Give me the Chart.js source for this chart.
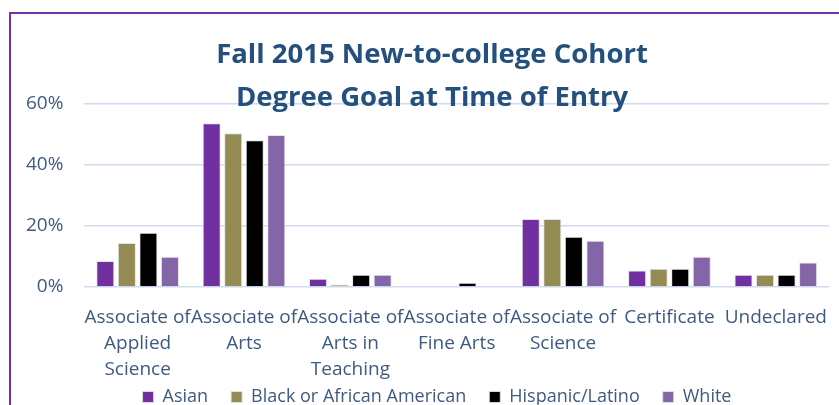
<!DOCTYPE html>
<html>
<head>
<meta charset="utf-8">
<script src="https://cdn.jsdelivr.net/npm/chart.js@4/dist/chart.umd.min.js"></script>
<style>
  html, body { margin: 0; padding: 0; background: #fff; overflow: hidden; }
  #wrap { position: relative; width: 839px; height: 405px; }
  #frame {
    position: absolute; left: 9px; top: 12px; width: 900px; height: 500px;
    border-top: 2px solid #7232A8; border-left: 2px solid #7232A8;
    pointer-events: none;
  }
</style>
</head>
<body>
<div id="wrap">
  <canvas id="chart"></canvas>
  <div id="frame"></div>
</div>
<script>
const categories = [
  ['Associate of', 'Applied', 'Science'],
  ['Associate of', 'Arts'],
  ['Associate of', 'Arts in', 'Teaching'],
  ['Associate of', 'Fine Arts'],
  ['Associate of', 'Science'],
  ['Certificate'],
  ['Undeclared'],
];
const asian = [8.5, 53.7, 2.7, 0, 22.3, 5.4, 4.0];
const black = [14.4, 50.4, 0.8, 0, 22.3, 6.0, 4.0];
const hispanic = [17.8, 48.1, 4.0, 1.4, 16.5, 6.0, 4.0];
const white = [9.9, 49.8, 4.0, 0, 15.2, 9.9, 8.0];
const yTicks = [0, 20, 40, 60];

const titleLines = ['Fall 2015 New-to-college Cohort', 'Degree Goal at Time of Entry'];
const textColor = '#3F5A80';

// title and legend sit a bit right of the plot centre in the original
const shiftBoxes = {
  id: 'shiftBoxes',
  afterLayout(chart) {
    if (chart.titleBlock) chart.titleBlock.left += 30;
    if (chart.legend) chart.legend.left += 40;
  },
};

const ctx = document.getElementById('chart').getContext('2d');
new Chart(ctx, {
  type: 'bar',
  data: {
    labels: categories,
    datasets: [
      { label: 'Asian', data: asian, backgroundColor: '#7030A0' },
      { label: 'Black or African American', data: black, backgroundColor: '#948A54' },
      { label: 'Hispanic/Latino', data: hispanic, backgroundColor: '#000000' },
      { label: 'White', data: white, backgroundColor: '#8465A8' },
    ].map(d => ({ ...d, borderColor: 'rgba(225,225,225,0.9)', borderWidth: 1,
                  categoryPercentage: 0.81, barPercentage: 0.84 })),
  },
  options: {
    responsive: true,
    maintainAspectRatio: false,
    animation: false,
    layout: { padding: { left: 5, right: 10, top: 0, bottom: -11 } },
    scales: {
      x: {
        grid: { display: false, drawTicks: false },
        border: { display: false },
        ticks: {
          color: textColor,
          font: { family: 'Open Sans', size: 19, lineHeight: 1.37 },
          padding: 18,
          maxRotation: 0,
          autoSkip: false,
        },
        afterFit: (scale) => {
          // let the three-line labels run into the legend band without clipping
          scale.height = 78;
          scale.paddingLeft = 0;
          scale.paddingRight = 0;
          scale._computeLabelArea = () => undefined;
        },
      },
      y: {
        min: 0,
        max: 60,
        afterBuildTicks: (scale) => { scale.ticks = yTicks.map(v => ({ value: v })); },
        grid: { color: '#CFDCEE', lineWidth: 1.5, drawTicks: false },
        border: { display: false },
        ticks: {
          color: textColor,
          font: { family: 'Open Sans', size: 19 },
          padding: 21,
          callback: (v) => v + '%',
        },
      },
    },
    plugins: {
      title: {
        display: true,
        text: titleLines,
        color: '#24507F',
        font: { family: 'Open Sans', size: 27.5, weight: 'bold', lineHeight: 1.5636 },
        padding: { top: 34, bottom: -16 },
      },
      legend: {
        position: 'bottom',
        labels: {
          color: textColor,
          font: { family: 'Open Sans', size: 18 },
          boxWidth: 11,
          boxHeight: 11,
          padding: 23,
        },
      },
      tooltip: { enabled: false },
    },
  },
  plugins: [shiftBoxes],
});
</script>
</body>
</html>
